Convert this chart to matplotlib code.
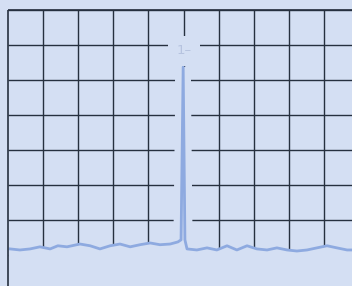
import matplotlib
matplotlib.use('Agg')
import matplotlib.pyplot as plt

# spectrum trace: x in divisions (10 div span), level in dB (ref 0 dB, 10 dB/div)
freq_div = [0.06, 0.34, 0.63, 0.91, 1.20, 1.42, 1.68, 2.05, 2.34, 2.62, 2.91,
            3.19, 3.48, 3.76, 4.05, 4.33, 4.62, 4.84, 4.93, 4.99, 5.04, 5.10,
            5.38, 5.67, 5.95, 6.24, 6.52, 6.81, 7.09, 7.38, 7.66, 7.95, 8.23,
            8.52, 8.80, 9.09, 9.37, 9.66, 9.83]
level_db = [-68.3, -68.6, -68.3, -67.7, -68.3, -67.4, -67.7, -66.9, -67.4, -68.3,
            -67.4, -66.9, -67.7, -67.1, -66.6, -67.1, -66.9, -66.3, -65.7, -16.3,
            -65.7, -68.3, -68.6, -68.0, -68.6, -67.4, -68.6, -67.4, -68.3, -68.6,
            -68.0, -68.6, -68.9, -68.6, -68.0, -67.4, -68.0, -68.6, -68.6]
peak_idx = 19
marker_label = '1–'

bg = '#d4dff3'
grid_c = '#26303f'
trace_c = '#8eaae0'

fig = plt.figure(figsize=(3.52, 2.86), dpi=100, facecolor=bg)
ax = fig.add_axes([0, 0, 1, 1])
ax.set_xlim(-0.228, 9.80)
ax.set_ylim(-78.9, 2.86)
ax.axis('off')

# graticule, 10 x 8 divisions
ax.vlines(range(1, 11), -80, 0, color=grid_c, lw=1.0, zorder=1)
ax.hlines([-10 * j for j in range(8)], 0, 10, color=grid_c, lw=1.0, zorder=1)

# blank out the graticule below the trace and around the peak
ax.fill_between([0] + freq_div + [10], [level_db[0]] + level_db + [level_db[-1]],
                -90, color=bg, lw=0, zorder=2)
sp = slice(peak_idx - 1, peak_idx + 2)
ax.plot(freq_div[sp], level_db[sp], color=bg, lw=11, zorder=2,
        solid_joinstyle='miter')

ax.plot(freq_div, level_db, color=trace_c, lw=2.0, zorder=3)
ax.vlines(0, -80, 0, color=grid_c, lw=1.2, zorder=4)
ax.hlines(0, 0, 10, color=grid_c, lw=1.2, zorder=1)

# marker readout
ax.text(freq_div[peak_idx] + 0.03, level_db[peak_idx] + 4.6, marker_label,
        color='#b6c3df', fontsize=9.5, ha='center', va='center', zorder=5,
        bbox=dict(boxstyle='square', pad=0.62, fc=bg, ec='none'))

fig.savefig('out.png', dpi=100, facecolor=bg)
